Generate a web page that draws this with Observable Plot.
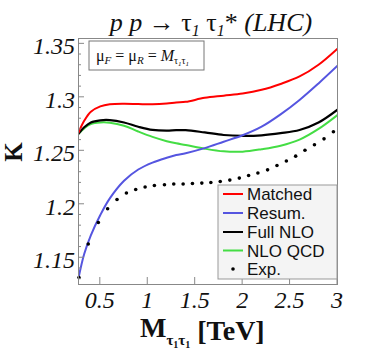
<!DOCTYPE html>
<html><head><meta charset="utf-8">
<script src="https://cdn.jsdelivr.net/npm/d3@7"></script>
<script src="https://cdn.jsdelivr.net/npm/@observablehq/plot@0.6"></script>
<style>html,body{margin:0;padding:0;background:#fff} svg{display:block}</style>
</head><body><div id="chart"></div>
<script>
// ---- data ----
const curveX   = [0.27, 0.33, 0.4, 0.5, 0.6, 0.75, 0.9, 1.05, 1.2, 1.3, 1.4, 1.6, 1.8, 2.0, 2.2, 2.4, 2.6, 2.8, 3.0];
const matchedK = [1.267, 1.278, 1.2865, 1.2915, 1.2935, 1.294, 1.2937, 1.2935, 1.2942, 1.2952, 1.2958, 1.2995, 1.3015, 1.3035, 1.307, 1.3125, 1.3195, 1.3305, 1.3455];
const resumK   = [1.131, 1.1535, 1.171, 1.19, 1.2055, 1.222, 1.2325, 1.239, 1.2435, 1.246, 1.2478, 1.2525, 1.2585, 1.2645, 1.2725, 1.284, 1.2975, 1.313, 1.3295];
const fullK    = [1.266, 1.272, 1.2765, 1.2785, 1.2787, 1.2765, 1.2725, 1.2695, 1.2688, 1.2693, 1.2693, 1.2672, 1.2648, 1.264, 1.2645, 1.2665, 1.2695, 1.2765, 1.2885];
const nloK     = [1.266, 1.271, 1.275, 1.2765, 1.2763, 1.2735, 1.268, 1.263, 1.259, 1.257, 1.2555, 1.252, 1.2495, 1.2492, 1.2515, 1.2548, 1.2605, 1.2705, 1.2835];
const expX = [0.275, 0.373, 0.479, 0.577, 0.676, 0.775, 0.873, 0.972, 1.070, 1.176, 1.274, 1.373, 1.471, 1.570,
              1.665, 1.764, 1.865, 1.965, 2.063, 2.161, 2.263, 2.362, 2.461, 2.559, 2.657, 2.757, 2.858, 2.957];
const expK = [1.1316, 1.1628, 1.183, 1.1958, 1.2045, 1.2105, 1.2138, 1.2161, 1.2176, 1.2182, 1.2189, 1.2189, 1.2194, 1.2198,
              1.2204, 1.2213, 1.2226, 1.2245, 1.2269, 1.2292, 1.2322, 1.2363, 1.2404, 1.245, 1.2505, 1.2556, 1.2612, 1.2678];
const xTicks = [0.5, 1, 1.5, 2, 2.5, 3];
const xTickLabels = ["0.5", "1", "1.5", "2", "2.5", "3"];
const yTicks = [1.15, 1.2, 1.25, 1.3, 1.35];
const yTickLabels = ["1.15", "1.2", "1.25", "1.3", "1.35"];
const yMinor = [1.13,1.14,1.16,1.17,1.18,1.19,1.21,1.22,1.23,1.24,1.26,1.27,1.28,1.29,1.31,1.32,1.33,1.34];
const seriesNames  = ["Matched", "Resum.", "Full NLO", "NLO QCD", "Exp."];
const seriesColors = ["#ff0000", "#5555e0", "#000000", "#44dd44", "#000000"];

const mk = ks => curveX.map((x, i) => ({x, k: ks[i]}));
const expData = expX.map((x, i) => ({x, k: expK[i]}));

const serif = "'Liberation Serif', 'Times New Roman', serif";
const sans = "'Liberation Sans', Arial, sans-serif";

const chart = Plot.plot({
  width: 378, height: 358,
  marginLeft: 78, marginRight: 41, marginTop: 38, marginBottom: 74,
  x: {domain: [0.27, 3.0], axis: null},
  y: {domain: [1.125, 1.355], axis: null},
  style: {background: "white", overflow: "visible"},
  marks: [
    Plot.line(mk(nloK), {x: "x", y: "k", stroke: seriesColors[3], strokeWidth: 2, curve: "catmull-rom", clip: true}),
    Plot.line(mk(fullK), {x: "x", y: "k", stroke: seriesColors[2], strokeWidth: 2.2, curve: "catmull-rom", clip: true}),
    Plot.line(mk(resumK), {x: "x", y: "k", stroke: seriesColors[1], strokeWidth: 2, curve: "catmull-rom", clip: true}),
    Plot.line(mk(matchedK), {x: "x", y: "k", stroke: seriesColors[0], strokeWidth: 2, curve: "catmull-rom", clip: true}),
    Plot.dot(expData, {x: "x", y: "k", r: 1.8, fill: "black", stroke: "none"}),
    Plot.frame({stroke: "#888", strokeWidth: 1})
  ]
});
document.getElementById("chart").appendChild(chart);

const svg = d3.select(chart);
const xs = chart.scale("x"), ys = chart.scale("y");
const L = 78, B = 284;

// tick marks (inward) and tick labels, positioned through the plot scales
const tg = svg.append("g").attr("stroke", "#888").attr("stroke-width", 1);
yTicks.forEach(v => tg.append("line").attr("x1", L).attr("x2", L + 6).attr("y1", ys.apply(v)).attr("y2", ys.apply(v)));
yMinor.forEach(v => tg.append("line").attr("x1", L).attr("x2", L + 3).attr("y1", ys.apply(v)).attr("y2", ys.apply(v)));
xTicks.forEach(v => tg.append("line").attr("y1", B).attr("y2", B - 7).attr("x1", xs.apply(v)).attr("x2", xs.apply(v)));

yTicks.forEach((v, i) => svg.append("text").attr("x", L - 3).attr("y", ys.apply(v) + 11)
  .attr("text-anchor", "end").style("font-family", serif).style("font-style", "italic")
  .attr("font-size", 24).attr("fill", "#111").text(yTickLabels[i]));
xTicks.forEach((v, i) => svg.append("text").attr("x", xs.apply(v)).attr("y", 308)
  .attr("text-anchor", "middle").style("font-family", serif).style("font-style", "italic")
  .attr("font-size", 24).attr("fill", "#111").text(xTickLabels[i]));

// title
const t = svg.append("text").attr("x", 211).attr("y", 31).attr("text-anchor", "middle")
  .style("font-family", serif).attr("font-size", 26).attr("fill", "#111");
t.append("tspan").style("font-style", "italic").text("p p ");
t.append("tspan").text("→ τ");
t.append("tspan").style("font-style", "italic").attr("font-size", 16).attr("dy", 5).text("1");
t.append("tspan").attr("dy", -5).text(" τ");
t.append("tspan").style("font-style", "italic").attr("font-size", 16).attr("dy", 5).text("1");
t.append("tspan").attr("dy", -5).text("* ");
t.append("tspan").style("font-style", "italic").text("(LHC)");

// y label
svg.append("text").attr("transform", "translate(22,152) rotate(-90)").attr("text-anchor", "middle")
  .style("font-family", serif).attr("font-weight", "bold").attr("font-size", 25).attr("fill", "#111").text("K");

// x label
const xl = svg.append("text").attr("x", 140).attr("y", 337).attr("text-anchor", "start")
  .style("font-family", serif).attr("font-weight", "bold").attr("font-size", 28).attr("fill", "#111");
xl.append("tspan").text("M");
xl.append("tspan").attr("font-size", 15).attr("dy", 8).text("τ");
xl.append("tspan").attr("font-size", 10).attr("dy", 3).text("1");
xl.append("tspan").attr("font-size", 15).attr("dy", -3).text("τ");
xl.append("tspan").attr("font-size", 10).attr("dy", 3).text("1");
xl.append("tspan").attr("dy", -8).text(" [TeV]");

// scale box
svg.append("rect").attr("x", 89).attr("y", 41).attr("width", 115).attr("height", 29)
  .attr("fill", "white").attr("stroke", "#777");
const mu = svg.append("text").attr("x", 96).attr("y", 61).attr("text-anchor", "start")
  .style("font-family", serif).attr("font-size", 16).attr("fill", "#111");
mu.append("tspan").text("μ");
mu.append("tspan").style("font-style", "italic").attr("font-size", 11).attr("dy", 3).text("F");
mu.append("tspan").attr("dy", -3).text(" = μ");
mu.append("tspan").style("font-style", "italic").attr("font-size", 11).attr("dy", 3).text("R");
mu.append("tspan").attr("dy", -3).text(" = ");
mu.append("tspan").style("font-style", "italic").text("M");
mu.append("tspan").attr("font-size", 10).attr("dy", 3).text("τ");
mu.append("tspan").style("font-style", "italic").attr("font-size", 7).attr("dy", 2).text("1");
mu.append("tspan").attr("font-size", 10).attr("dy", -2).text("τ");
mu.append("tspan").style("font-style", "italic").attr("font-size", 7).attr("dy", 2).text("1");

// legend
const lg = svg.append("g");
lg.append("rect").attr("x", 218).attr("y", 185).attr("width", 119).attr("height", 94)
  .attr("fill", "#f4f4f4").attr("stroke", "#999");
const ly = [194, 213, 232, 250.5, 269];
seriesNames.forEach((name, i) => {
  if (i < 4) {
    lg.append("line").attr("x1", 223).attr("x2", 243).attr("y1", ly[i]).attr("y2", ly[i])
      .attr("stroke", seriesColors[i]).attr("stroke-width", 2);
  } else {
    lg.append("circle").attr("cx", 233).attr("cy", ly[i]).attr("r", 1.8).attr("fill", seriesColors[i]);
  }
  lg.append("text").attr("x", 247).attr("y", ly[i]).attr("dy", "0.36em").attr("text-anchor", "start")
    .style("font-family", sans).attr("font-size", 17).attr("fill", "#111").text(name);
});
</script>
</body></html>
